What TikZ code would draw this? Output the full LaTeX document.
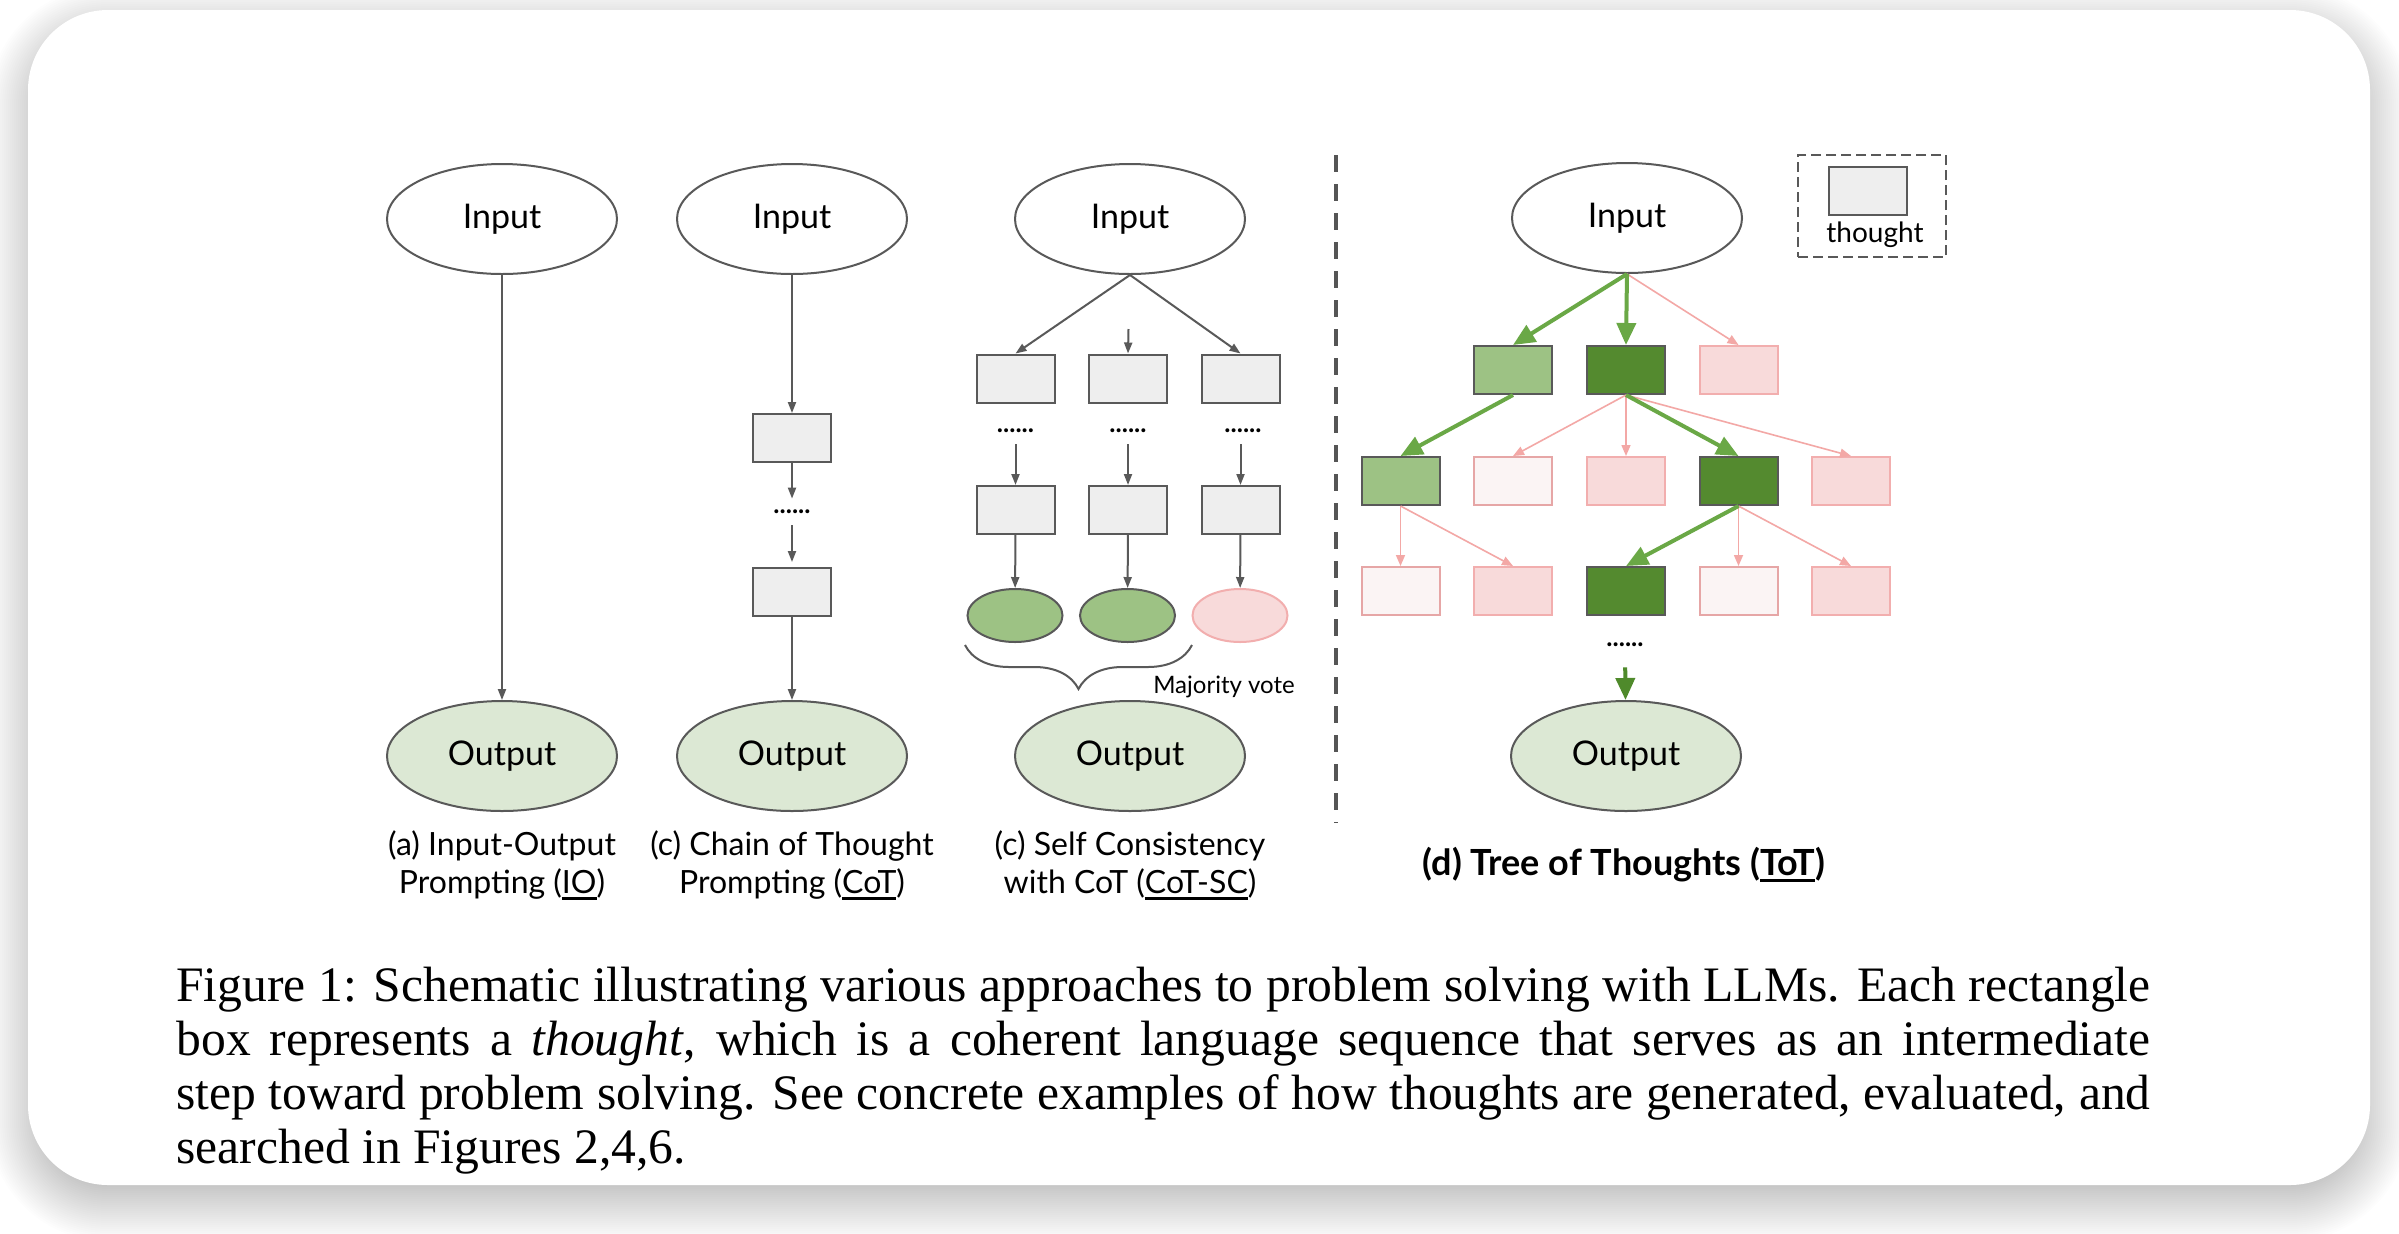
\documentclass[tikz,border=0pt]{standalone}
\usepackage{fontspec}
\setmainfont{Liberation Serif}
\newfontfamily\lato{Lato}
\usetikzlibrary{arrows.meta,shapes.geometric,decorations.pathreplacing}
\newcommand\myul[1]{\setbox0\hbox{#1}\rlap{\copy0}\rule[-3.6pt]{\wd0}{1.4pt}}
\definecolor{gline}{HTML}{595959}
\definecolor{boxfill}{HTML}{EEEEEE}
\definecolor{lgreen}{HTML}{9DC284}
\definecolor{dgreen}{HTML}{548A2F}
\definecolor{outfill}{HTML}{DCE8D4}
\definecolor{grarrow}{HTML}{6AA846}
\definecolor{grarrowdk}{HTML}{4F8A2B}
\definecolor{pkfill}{HTML}{F8DADA}
\definecolor{pkline}{HTML}{F2AEAE}
\definecolor{wpfill}{HTML}{FBF4F4}
\definecolor{wpline}{HTML}{E6A6A6}
\definecolor{pkarrow}{HTML}{F3A8A6}
\definecolor{sepcol}{HTML}{555555}
\tikzset{
  ell/.style={ellipse, draw=gline, line width=1pt, minimum width=115pt, minimum height=55pt, inner sep=0pt, font=\lato\fontsize{17}{20}\selectfont},
  inp/.style={ell, fill=white},
  outp/.style={ell, fill=outfill},
  smallell/.style={ellipse, draw=gline, line width=1pt, minimum width=47.5pt, minimum height=26.5pt, inner sep=0pt},
  thoughtbox/.style={rectangle, draw=gline, line width=1pt, fill=boxfill, minimum width=39pt, minimum height=24pt, inner sep=0pt},
  lgbox/.style={thoughtbox, fill=lgreen},
  dgbox/.style={thoughtbox, fill=dgreen},
  pkbox/.style={thoughtbox, draw=pkline, fill=pkfill},
  wpbox/.style={thoughtbox, draw=wpline, fill=wpfill},
  dotsnode/.style={inner sep=0pt, minimum height=13pt, font=\lato\bfseries\fontsize{13}{13}\selectfont},
  garr/.style={draw=gline, line width=1pt, -{Triangle[length=5.5pt,width=4pt]}},
  grarr/.style={draw=grarrow, line width=2pt, -{Triangle[length=11pt,width=9.5pt]}},
  pkarr/.style={draw=pkarrow, line width=0.8pt, -{Triangle[length=5.5pt,width=4.5pt]}},
  lbl/.style={font=\lato\fontsize{16}{19}\selectfont, anchor=base, inner sep=0pt},
  captext/.style={font=\fontsize{24.8}{27}\selectfont, anchor=base west, inner sep=0pt}
}
\begin{document}
\begin{tikzpicture}[x=0.5pt,y=-0.5pt]
\useasboundingbox (0,0) rectangle (2399,1233);
\fill[white] (0,0) rectangle (2399,1233);
% card shadow
\foreach \e in {-14,-12,...,40} {
  \pgfmathsetmacro\rr{(80+\e)*0.5}
  \fill[black,opacity=0.006,rounded corners=\rr pt] (28-\e,26-\e) rectangle (2370+\e,1201+\e);
}
\fill[white, rounded corners=40pt] (28,10) rectangle (2370,1185);

% ---------- (a) IO
\node[inp] (ina) at (502,219) {Input};
\node[outp] (outa) at (502,756) {Output};
\draw[garr] (ina) -- (outa);

% ---------- (b) CoT
\node[inp] (inb) at (792,219) {Input};
\node[thoughtbox] (b1) at (792,438) {};
\node[dotsnode] (dotb) at (792,512) {......};
\node[thoughtbox] (b2) at (792,592) {};
\node[outp] (outb) at (792,756) {Output};
\draw[garr] (inb) -- (b1);
\draw[garr] (b1) -- (dotb);
\draw[garr, shorten >=2.5pt] (dotb) -- (b2);
\draw[garr] (b2) -- (outb);

% ---------- (c) CoT-SC
\node[inp] (inc) at (1130,219) {Input};
\node[thoughtbox] (c1l) at (1015.5,378.5) {};
\node[thoughtbox] (c1m) at (1128,378.5) {};
\node[thoughtbox] (c1r) at (1240.5,378.5) {};
\node[dotsnode] (dcl) at (1015.5,431) {......};
\node[dotsnode] (dcm) at (1128,431) {......};
\node[dotsnode] (dcr) at (1243,431) {......};
\node[thoughtbox] (c2l) at (1015.5,510) {};
\node[thoughtbox] (c2m) at (1128,510) {};
\node[thoughtbox] (c2r) at (1240.5,510) {};
\node[smallell, fill=lgreen] (el) at (1015,615.5) {};
\node[smallell, fill=lgreen] (em) at (1127.5,615.5) {};
\node[smallell, draw=pkline, fill=pkfill] (er) at (1240,615.5) {};
\node[outp] (outc) at (1130,756) {Output};
\coordinate (cmtop) at (1128.5,329);
\draw[garr] (inc.south) -- (c1l.north);
\draw[garr] (cmtop) -- (c1m.north);
\draw[garr] (inc.south) -- (c1r.north);
\draw[garr] (dcl) -- (c2l);
\draw[garr] (dcm) -- (c2m);
\draw[garr] (dcr.south -| c2r.north) -- (c2r.north);
\draw[garr] (c2l) -- (el);
\draw[garr] (c2m) -- (em);
\draw[garr] (c2r) -- (er);
\coordinate (brl) at (965,645);
\coordinate (brr) at (1192,645);
\draw[gline, line width=1pt, decorate, decoration={brace, mirror, amplitude=22pt}] (brl) -- (brr);
\node[anchor=base, inner sep=0pt, font=\lato\fontsize{12}{14}\selectfont] (mv) at (1224,693) {Majority vote};

% ---------- separator
\draw[sepcol, line width=1.75pt, dash pattern=on 8.5pt off 6pt] (1336,155) -- (1336,823);

% ---------- (d) ToT
\node[inp] (ind) at (1627,218) {Input};
\node[lgbox] (t1a) at (1513,370) {};
\node[dgbox] (t1b) at (1626,370) {};
\node[pkbox] (t1c) at (1738.5,370) {};
\node[lgbox] (t2a) at (1400.5,481) {};
\node[wpbox] (t2b) at (1513,481) {};
\node[pkbox] (t2c) at (1626,481) {};
\node[dgbox] (t2d) at (1738.5,481) {};
\node[pkbox] (t2e) at (1851,481) {};
\node[wpbox] (t3a) at (1400.5,591) {};
\node[pkbox] (t3b) at (1513,591) {};
\node[dgbox] (t3c) at (1626,591) {};
\node[wpbox] (t3d) at (1738.5,591) {};
\node[pkbox] (t3e) at (1851,591) {};
\node[dotsnode] (dotd) at (1625,645) {......};
\node[outp] (outd) at (1626,756) {Output};
\draw[pkarr] (ind.south) -- (t1c.north);
\draw[pkarr] (t1b.south) -- (t2b.north);
\draw[pkarr] (t1b.south) -- (t2c.north);
\draw[pkarr] (t1b.south) -- (t2e.north);
\draw[pkarr] (t2a.south) -- (t3a.north);
\draw[pkarr] (t2a.south) -- (t3b.north);
\draw[pkarr] (t2d.south) -- (t3d.north);
\draw[pkarr] (t2d.south) -- (t3e.north);
\draw[grarr] (ind.south) -- (t1a.north);
\draw[grarr] (ind.south) -- (t1b.north);
\draw[grarr] (t1a.south) -- (t2a.north);
\draw[grarr] (t1b.south) -- (t2d.north);
\draw[grarr] (t2d.south) -- (t3c.north);
\draw[grarr, draw=grarrowdk, shorten <=4.5pt] (dotd) -- (outd);

% legend
\node[draw=gline, line width=1pt, dash pattern=on 5pt off 2.5pt, minimum width=74pt, minimum height=51pt, inner sep=0pt] (legend) at (1872,206) {};
\node[thoughtbox] (lgth) at (1868,191) {};
\node[anchor=base, inner sep=0pt, font=\lato\fontsize{14}{16}\selectfont] (lgtx) at (1875,242) {thought};

% ---------- labels
\node[lbl] (la1) at (502,855) {(a) Input-Output};
\node[lbl] (la2) at (502,893) {Prompting (\myul{IO})};
\node[lbl] (lb1) at (792,855) {(c) Chain of Thought};
\node[lbl] (lb2) at (792,893) {Prompting (\myul{CoT})};
\node[lbl] (lc1) at (1130,855) {(c) Self Consistency};
\node[lbl] (lc2) at (1130,893) {with CoT (\myul{CoT-SC})};
\node[lbl, font=\lato\bfseries\fontsize{18}{21}\selectfont] (ld) at (1624,875) {(d) Tree of Thoughts (\myul{ToT})};

% ---------- caption
\node[captext] (cap1) at (176,1001) {\makebox[987pt][s]{Figure 1: Schematic illustrating various approaches to problem solving with LLMs. Each rectangle}};
\node[captext] (cap2) at (176,1055) {\makebox[987pt][s]{box represents a \textit{thought}, which is a coherent language sequence that serves as an intermediate}};
\node[captext] (cap3) at (176,1109) {\makebox[987pt][s]{step toward problem solving. See concrete examples of how thoughts are generated, evaluated, and}};
\node[captext] (cap4) at (176,1163) {searched in Figures 2,4,6.};
\end{tikzpicture}
\end{document}
